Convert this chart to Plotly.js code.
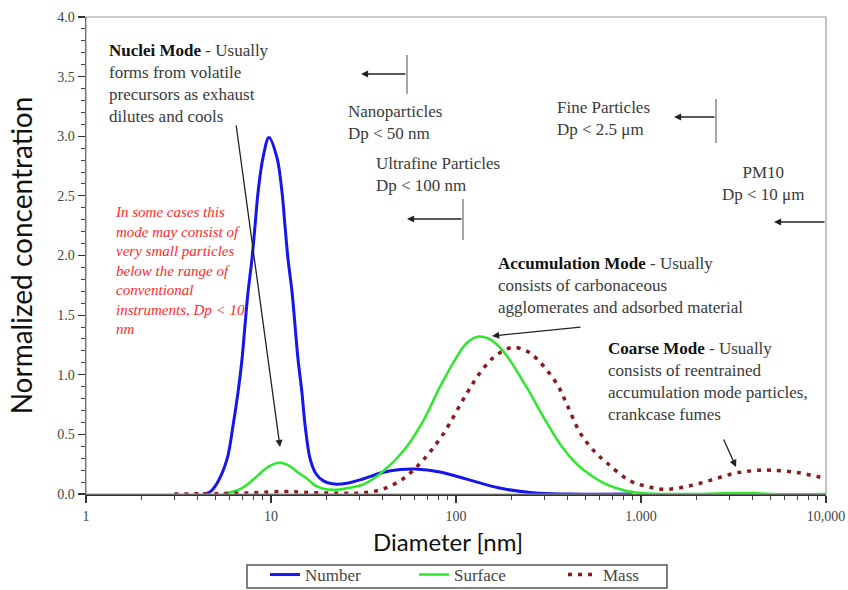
<!DOCTYPE html>
<html><head><meta charset="utf-8">
<script src="https://cdn.plot.ly/plotly-3.0.1.min.js"></script>
<style>html,body{margin:0;padding:0;background:#fff}#chart{width:848px;height:590px}</style>
</head><body><div id="chart"></div>
<script>
// ---- data ----
const numberD = [4.29, 4.7, 5.11, 5.78, 6.23, 6.63, 6.97, 7.23, 7.51, 7.89, 8.2, 8.51, 9.05, 9.75, 10.77, 11.47, 11.9, 12.36, 13.0, 13.49, 14.0, 14.7, 15.3, 16.3, 17.5, 19.2, 21.5, 25.7, 32, 40, 50, 60, 82, 114, 172, 260, 400, 900];
const numberV = [0, 0.02, 0.09, 0.29, 0.57, 0.85, 1.13, 1.41, 1.69, 1.97, 2.25, 2.53, 2.82, 2.99, 2.82, 2.53, 2.25, 1.97, 1.69, 1.41, 1.13, 0.85, 0.57, 0.29, 0.17, 0.11, 0.085, 0.09, 0.13, 0.18, 0.205, 0.21, 0.185, 0.125, 0.05, 0.01, 0, 0];

const surfaceD = [5.5, 6.8, 7.6, 8.4, 9.5, 10.5, 11.5, 12.6, 14, 15.6, 17.2, 19.1, 22, 26, 31.6, 40.4, 51.9, 66.3, 82, 100, 115, 134, 155, 177, 200, 229, 255, 281, 320, 365, 450, 550, 650, 770, 900, 1100, 2000, 3000, 4000, 5000, 10000];
const surfaceV = [0, 0.04, 0.09, 0.15, 0.22, 0.255, 0.26, 0.235, 0.18, 0.13, 0.075, 0.045, 0.035, 0.05, 0.08, 0.19, 0.36, 0.61, 0.9, 1.14, 1.27, 1.32, 1.29, 1.21, 1.1, 0.95, 0.83, 0.71, 0.56, 0.42, 0.25, 0.145, 0.08, 0.04, 0.016, 0.004, 0, 0.008, 0.008, 0, 0];

const massD = [3.0, 5, 8, 11.6, 15, 20, 26, 31.6, 40, 52, 66, 85, 114, 134, 158, 180, 203, 240, 275, 352, 398, 466, 550, 655, 873, 1100, 1315, 1600, 2090, 3140, 4000, 4980, 7000, 10000];
const massV = [0, 0.003, 0.01, 0.022, 0.015, 0.008, 0.006, 0.01, 0.04, 0.13, 0.28, 0.5, 0.84, 1.01, 1.14, 1.2, 1.23, 1.2, 1.13, 0.92, 0.75, 0.52, 0.37, 0.26, 0.11, 0.06, 0.04, 0.05, 0.09, 0.17, 0.195, 0.2, 0.18, 0.13];

const xTickVals = [1, 10, 100, 1000, 10000];
const xTickText = ['1', '10', '100', '1.000', '10,000'];
const seriesNames = ['Number', 'Surface', 'Mass'];
const xTitle = 'Diameter [nm]';
const yTitle = 'Normalized concentration';

// ---- layout helpers (pixel -> paper) ----
const W = 848, H = 590, L = 86, R = 826, T = 17, B = 494;
const PX = p => (p - L) / (R - L);
const PY = p => (B - p) / (B - T);

const minorVals = [];
for (let e = 0; e < 4; e++) for (let k = 2; k <= 9; k++) minorVals.push(k * Math.pow(10, e));

const serif = 'Liberation Serif, Times New Roman, serif';
const sans = 'Lato, Carlito, sans-serif';
const txtColor = '#3a3a3a';

function txt(xl, yFirst, text, fs, opts) {
  opts = opts || {};
  return Object.assign({
    xref: 'paper', yref: 'paper', x: PX(xl), y: PY(yFirst - 0.65 * fs - 1),
    xanchor: 'left', yanchor: 'top', align: 'left', showarrow: false,
    text: text, font: {family: serif, size: fs, color: txtColor}
  }, opts);
}
function arrow(tx, ty, hx, hy) {
  return {xref: 'paper', yref: 'paper', x: PX(hx), y: PY(hy), ax: tx - hx, ay: ty - hy,
    axref: 'pixel', ayref: 'pixel', text: '', showarrow: true,
    arrowhead: 2, arrowsize: 1.1, arrowwidth: 1.3, arrowcolor: '#222'};
}
function vline(x, y0, y1) {
  return {type: 'line', xref: 'paper', yref: 'paper', x0: PX(x), x1: PX(x), y0: PY(y0), y1: PY(y1),
    line: {color: '#888', width: 1.5}};
}

const traces = [
  {x: numberD, y: numberV, name: seriesNames[0], type: 'scatter', mode: 'lines',
   line: {color: '#1515ee', width: 3, shape: 'spline', smoothing: 1}, cliponaxis: false},
  {x: surfaceD, y: surfaceV, name: seriesNames[1], type: 'scatter', mode: 'lines',
   line: {color: '#2be82b', width: 2.5, shape: 'spline', smoothing: 1}, cliponaxis: false},
  {x: massD, y: massV, name: seriesNames[2], type: 'scatter', mode: 'lines',
   line: {color: '#8b1a1a', width: 3.5, dash: '4px,6px', shape: 'spline', smoothing: 1}, cliponaxis: false}
];

const annotations = [
  txt(107, 51, '<b style="color:#111">Nuclei Mode</b> - Usually<br>forms from volatile<br>precursors as exhaust<br>dilutes and cools', 17),
  arrow(236, 124, 280, 447),
  txt(113, 213, '<i>In some cases this<br>mode may consist of<br>very small particles<br>below the range of<br>conventional<br>instruments, Dp &lt; 10<br>nm</i>', 15, {font: {family: serif, size: 15, color: '#ff2a2a'}}),
  txt(346, 112, 'Nanoparticles<br>Dp &lt; 50 nm', 17),
  arrow(407, 74, 361, 74),
  txt(374, 164, 'Ultrafine Particles<br>Dp &lt; 100 nm', 17),
  arrow(463, 219, 407, 219),
  txt(555, 108, 'Fine Particles<br>Dp &lt; 2.5 μm', 17),
  arrow(716, 117, 674, 117),
  txt(763, 173, 'PM10<br>Dp &lt; 10 μm', 17, {xanchor: 'center', align: 'center'}),
  arrow(826, 222, 774, 222),
  txt(496, 264, '<b style="color:#111">Accumulation Mode</b> - Usually<br>consists of carbonaceous<br>agglomerates and adsorbed material', 17),
  arrow(582, 327, 492, 336),
  txt(606, 349, '<b style="color:#111">Coarse Mode</b> - Usually<br>consists of reentrained<br>accumulation mode particles,<br>crankcase fumes', 17),
  arrow(723, 438, 736, 467),
  // x-axis title
  {xref: 'paper', yref: 'paper', x: PX(448), y: PY(541), xanchor: 'center', yanchor: 'middle',
   showarrow: false, text: xTitle, font: {family: sans, size: 24, color: '#111'}}
];

const shapes = [
  {type: 'rect', xref: 'paper', yref: 'paper', x0: 0, x1: 1, y0: 0, y1: 1, line: {color: '#999', width: 1.2}},
  vline(407, 55, 94),
  vline(463, 199, 240),
  vline(716, 99, 143),
  // legend frame
  {type: 'rect', xref: 'paper', yref: 'paper', x0: PX(247), x1: PX(667), y0: PY(565), y1: PY(588),
   line: {color: '#555', width: 1.5}}
];

const layout = {
  width: W, height: H,
  margin: {l: L, r: W - R, t: T, b: H - B, autoexpand: false},
  paper_bgcolor: '#fff', plot_bgcolor: '#fff',
  showlegend: true,
  legend: {orientation: 'h', x: PX(265), xanchor: 'left', y: PY(557), yanchor: 'top',
    entrywidth: 104, entrywidthmode: 'pixels', borderwidth: 0,
    font: {family: serif, size: 17, color: '#444'}, bgcolor: 'rgba(0,0,0,0)'},
  xaxis: {type: 'log', range: [0, 4], tickmode: 'array', tickvals: xTickVals, ticktext: xTickText,
    ticks: 'outside', ticklen: 7, tickwidth: 1.2, tickcolor: '#333',
    minor: {tickmode: 'array', tickvals: minorVals, ticks: 'outside', ticklen: 4, tickwidth: 1, tickcolor: '#444'},
    showline: true, linecolor: '#333', linewidth: 1.5, showgrid: false, zeroline: false,
    tickfont: {family: serif, size: 14, color: '#444'}, ticklabelstandoff: 2},
  yaxis: {range: [0, 4], dtick: 0.5, tick0: 0, tickformat: '.1f',
    ticks: 'outside', ticklen: 7, tickwidth: 1.2, tickcolor: '#333',
    minor: {dtick: 0.1, ticks: 'outside', ticklen: 4, tickwidth: 1, tickcolor: '#444'},
    showline: true, linecolor: '#333', linewidth: 1.5, showgrid: false, zeroline: false,
    tickfont: {family: serif, size: 14, color: '#444'},
    title: {text: yTitle, font: {family: sans, size: 28, color: '#111'}, standoff: 16}},
  annotations: annotations,
  shapes: shapes
};

Plotly.newPlot('chart', traces, layout, {displayModeBar: false, staticPlot: true});
</script>
</body></html>
